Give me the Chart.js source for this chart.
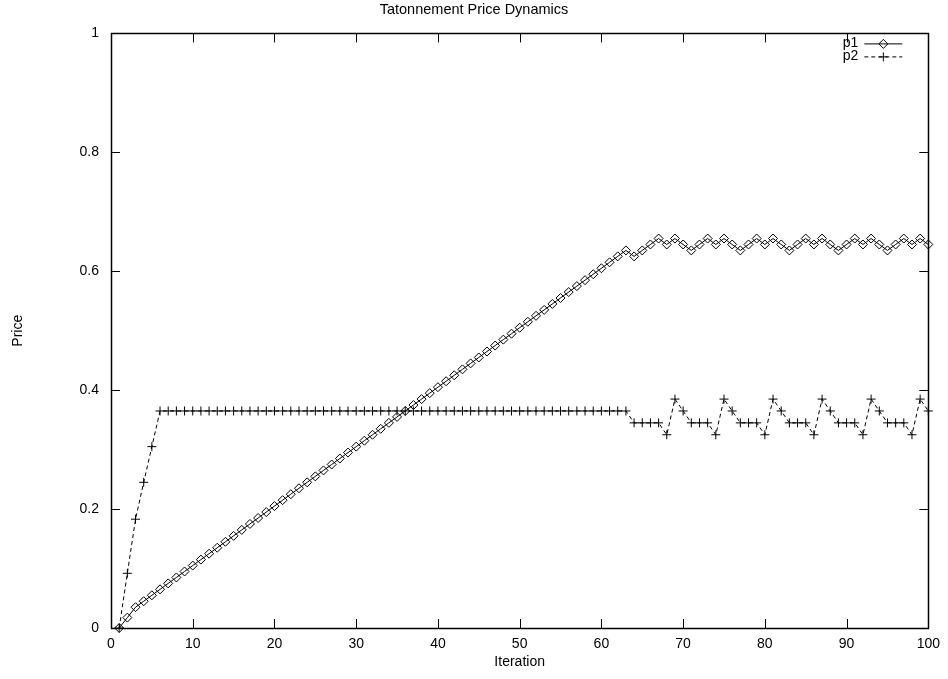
<!DOCTYPE html>
<html>
<head>
<meta charset="utf-8">
<script src="https://cdn.jsdelivr.net/npm/chart.js@4"></script>
<style>
  html, body { margin: 0; padding: 0; background: #fff; }
  #wrap { width: 948px; height: 679px; }
</style>
</head>
<body>
<div id="wrap"><canvas id="priceChart" width="948" height="679"></canvas></div>
<script>
// Werte (Iteration 1..100)
const iterations = [
  1, 2, 3, 4, 5, 6, 7, 8, 9, 10, 11, 12, 13, 14, 15, 16, 17, 18, 19, 20,
  21, 22, 23, 24, 25, 26, 27, 28, 29, 30, 31, 32, 33, 34, 35, 36, 37, 38, 39, 40,
  41, 42, 43, 44, 45, 46, 47, 48, 49, 50, 51, 52, 53, 54, 55, 56, 57, 58, 59, 60,
  61, 62, 63, 64, 65, 66, 67, 68, 69, 70, 71, 72, 73, 74, 75, 76, 77, 78, 79, 80,
  81, 82, 83, 84, 85, 86, 87, 88, 89, 90, 91, 92, 93, 94, 95, 96, 97, 98, 99, 100
];

const p1 = [
  0, 0.0175, 0.035, 0.045, 0.055, 0.065, 0.075, 0.085, 0.095, 0.105,
  0.115, 0.125, 0.135, 0.145, 0.155, 0.165, 0.175, 0.185, 0.195, 0.205,
  0.215, 0.225, 0.235, 0.245, 0.255, 0.265, 0.275, 0.285, 0.295, 0.305,
  0.315, 0.325, 0.335, 0.345, 0.355, 0.365, 0.375, 0.385, 0.395, 0.405,
  0.415, 0.425, 0.435, 0.445, 0.455, 0.465, 0.475, 0.485, 0.495, 0.505,
  0.515, 0.525, 0.535, 0.545, 0.555, 0.565, 0.575, 0.585, 0.595, 0.605,
  0.615, 0.625, 0.635, 0.625, 0.635, 0.645, 0.655, 0.645, 0.655, 0.645,
  0.635, 0.645, 0.655, 0.645, 0.655, 0.645, 0.635, 0.645, 0.655, 0.645,
  0.655, 0.645, 0.635, 0.645, 0.655, 0.645, 0.655, 0.645, 0.635, 0.645,
  0.655, 0.645, 0.655, 0.645, 0.635, 0.645, 0.655, 0.645, 0.655, 0.645
];

const p2 = [
  0, 0.092, 0.183, 0.245, 0.305, 0.365, 0.365, 0.365, 0.365, 0.365,
  0.365, 0.365, 0.365, 0.365, 0.365, 0.365, 0.365, 0.365, 0.365, 0.365,
  0.365, 0.365, 0.365, 0.365, 0.365, 0.365, 0.365, 0.365, 0.365, 0.365,
  0.365, 0.365, 0.365, 0.365, 0.365, 0.365, 0.365, 0.365, 0.365, 0.365,
  0.365, 0.365, 0.365, 0.365, 0.365, 0.365, 0.365, 0.365, 0.365, 0.365,
  0.365, 0.365, 0.365, 0.365, 0.365, 0.365, 0.365, 0.365, 0.365, 0.365,
  0.365, 0.365, 0.365, 0.345, 0.345, 0.345, 0.345, 0.325, 0.385, 0.365,
  0.345, 0.345, 0.345, 0.325, 0.385, 0.365, 0.345, 0.345, 0.345, 0.325,
  0.385, 0.365, 0.345, 0.345, 0.345, 0.325, 0.385, 0.365, 0.345, 0.345,
  0.345, 0.325, 0.385, 0.365, 0.345, 0.345, 0.345, 0.325, 0.385, 0.365
];

const yTickLabels = ['0', '0.2', '0.4', '0.6', '0.8', '1'];
const xTickLabels = ['0', '10', '20', '30', '40', '50', '60', '70', '80', '90', '100'];

const FONT = "'Liberation Sans', Arial, Helvetica, sans-serif";

// gnuplot-Stil: Rahmen, Ticks nach innen, Legende oben rechts
const gnuplotFrame = {
  id: 'gnuplotFrame',
  afterDraw(chart) {
    const { ctx, chartArea: a, scales } = chart;
    const tick = 9;
    ctx.save();
    ctx.strokeStyle = '#000';
    ctx.lineWidth = 1;
    ctx.beginPath();
    scales.x.ticks.forEach(t => {
      const px = Math.round(scales.x.getPixelForValue(t.value)) + 0.5;
      ctx.moveTo(px, a.bottom); ctx.lineTo(px, a.bottom - tick);
      ctx.moveTo(px, a.top); ctx.lineTo(px, a.top + tick);
    });
    scales.y.ticks.forEach(t => {
      const py = Math.round(scales.y.getPixelForValue(t.value)) + 0.5;
      ctx.moveTo(a.left, py); ctx.lineTo(a.left + tick, py);
      ctx.moveTo(a.right, py); ctx.lineTo(a.right - tick, py);
    });
    ctx.stroke();
    ctx.lineWidth = 1.5;
    ctx.strokeRect(Math.round(a.left) + 0.5, Math.round(a.top) + 0.5,
      Math.round(a.right - a.left), Math.round(a.bottom - a.top));

    // Legende
    ctx.font = '14px ' + FONT;
    ctx.fillStyle = '#000';
    ctx.textAlign = 'right';
    ctx.textBaseline = 'middle';
    chart.data.datasets.forEach((ds, i) => {
      const y = a.top + 10 + i * 13;
      ctx.fillText(ds.label, a.right - 70, y);
      ctx.lineWidth = 1;
      ctx.setLineDash(ds.borderDash || []);
      ctx.beginPath();
      ctx.moveTo(a.right - 64, y + 0.5);
      ctx.lineTo(a.right - 26, y + 0.5);
      ctx.stroke();
      ctx.setLineDash([]);
      ctx.fillStyle = 'rgba(0,0,0,0)';
      Chart.helpers.drawPoint(ctx, {
        pointStyle: ds.pointStyle, radius: ds.pointRadius, rotation: 0, borderWidth: 1
      }, a.right - 45, y + 0.5);
      ctx.fillStyle = '#000';
    });
    ctx.restore();
  }
};

const ctx = document.getElementById('priceChart').getContext('2d');

new Chart(ctx, {
  type: 'line',
  data: {
    datasets: [
      {
        label: 'p1',
        data: iterations.map((it, i) => ({ x: it, y: p1[i] })),
        borderColor: '#000',
        borderWidth: 1,
        pointStyle: 'rectRot',
        pointRadius: 4.5,
        pointBorderColor: '#000',
        pointBackgroundColor: 'rgba(0,0,0,0)',
        pointBorderWidth: 1,
        tension: 0,
        clip: false
      },
      {
        label: 'p2',
        data: iterations.map((it, i) => ({ x: it, y: p2[i] })),
        borderColor: '#000',
        borderWidth: 1,
        borderDash: [4, 3],
        pointStyle: 'cross',
        pointRadius: 4.5,
        pointBorderColor: '#000',
        pointBorderWidth: 1,
        tension: 0,
        clip: false
      }
    ]
  },
  options: {
    responsive: false,
    animation: false,
    events: [],
    layout: { padding: 0 },
    plugins: {
      legend: { display: false },
      tooltip: { enabled: false },
      title: {
        display: true,
        text: 'Tatonnement Price Dynamics',
        color: '#000',
        font: { family: FONT, size: 14.5, weight: 'normal' },
        padding: { top: 1, bottom: 15 }
      }
    },
    scales: {
      x: {
        type: 'linear',
        min: 0,
        max: 100,
        grid: { display: false, drawTicks: false },
        border: { display: false },
        ticks: {
          stepSize: 10,
          color: '#000',
          padding: 8,
          maxRotation: 0,
          font: { family: FONT, size: 14 },
          callback: (v, i) => xTickLabels[i]
        },
        title: {
          display: true,
          text: 'Iteration',
          color: '#000',
          font: { family: FONT, size: 14 },
          padding: { top: 0, bottom: 8 }
        },
        afterFit: scale => { scale.height = 51; }
      },
      y: {
        min: 0,
        max: 1,
        grid: { display: false, drawTicks: false },
        border: { display: false },
        ticks: {
          stepSize: 0.2,
          color: '#000',
          padding: 12,
          font: { family: FONT, size: 14 },
          callback: (v, i) => yTickLabels[i]
        },
        title: {
          display: true,
          text: 'Price',
          color: '#000',
          font: { family: FONT, size: 14 },
          padding: { top: 10, bottom: 0 }
        },
        afterFit: scale => { scale.width = 111; }
      },
      // leere rechte Achse, damit der Rand rechts frei bleibt
      yRight: {
        position: 'right',
        min: 0,
        max: 1,
        grid: { display: false, drawTicks: false },
        border: { display: false },
        ticks: { display: false },
        afterFit: scale => { scale.width = 16; }
      }
    }
  },
  plugins: [gnuplotFrame]
});
</script>
</body>
</html>
